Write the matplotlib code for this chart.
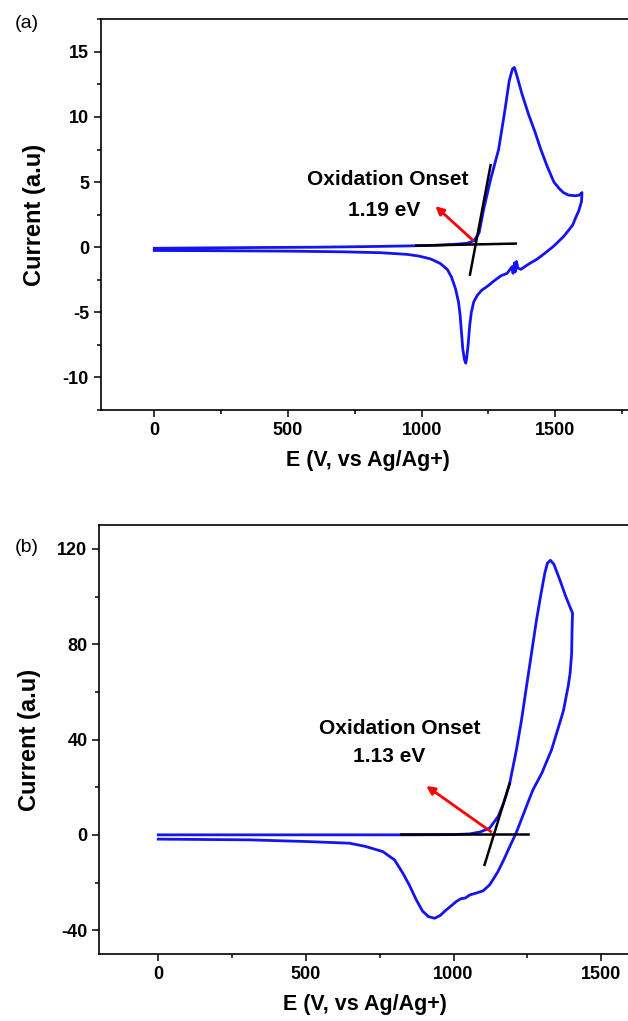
import numpy as np
import matplotlib
matplotlib.use('Agg')
from matplotlib import pyplot
from matplotlib.ticker import MultipleLocator

pyplot.rcParams['font.family'] = ['Liberation Sans', 'DejaVu Sans']
pyplot.rcParams['axes.unicode_minus'] = False

# panel (a) cyclic voltammogram
e_a = [0, 200, 400, 600, 800, 950, 1050, 1120, 1170, 1196, 1215, 1232, 1258, 1288,
       1310, 1328, 1340, 1347, 1356, 1375, 1400, 1425, 1446, 1470, 1495, 1515, 1530,
       1550, 1575, 1590, 1600,
       1598, 1588, 1577, 1565, 1548, 1530, 1510, 1495, 1465, 1433, 1400, 1371, 1360,
       1355, 1350, 1347, 1342, 1338, 1320, 1296, 1270, 1246, 1225, 1208, 1195, 1186,
       1180, 1174, 1168, 1165, 1160, 1154, 1149, 1144, 1138, 1127, 1112, 1096, 1070,
       1034, 990, 946, 846, 700, 500, 250, 0]
i_a = [-0.08, -0.05, -0.02, 0.0, 0.05, 0.1, 0.15, 0.22, 0.3, 0.5, 1.1, 2.9, 5.2, 7.5,
       10.3, 12.8, 13.7, 13.8, 13.2, 11.8, 10.2, 8.8, 7.5, 6.2, 5.0, 4.5, 4.2,
       4.0, 3.95, 4.0, 4.2,
       3.5, 2.8, 2.3, 1.7, 1.25, 0.8, 0.4, 0.1, -0.4, -0.9, -1.3, -1.7, -1.6,
       -1.1, -1.9, -1.2, -2.0, -1.5, -2.0, -2.2, -2.6, -3.0, -3.3, -3.7, -4.2, -5.0,
       -6.0, -7.5, -8.6, -8.9, -8.6, -7.8, -6.5, -5.2, -4.2, -3.2, -2.3, -1.7, -1.25,
       -0.9, -0.68, -0.55, -0.42, -0.35, -0.3, -0.27, -0.25]

# panel (b)
e_b = [0, 300, 600, 850, 1000, 1055, 1090, 1122, 1151, 1170, 1190, 1213, 1230, 1247,
       1265, 1281, 1296, 1309, 1318, 1328, 1340, 1360, 1380, 1403,
       1401, 1400, 1395, 1388, 1372, 1350, 1332, 1299, 1269, 1251, 1230, 1211,
       1190, 1170, 1150, 1135, 1122, 1100, 1075, 1055, 1040, 1025, 1009, 990, 975, 955,
       936, 915, 895, 874, 850, 828, 800, 760, 700, 647, 500, 308, 0]
i_b = [0, 0, 0, 0, 0.1, 0.4, 1.2, 2.8, 7.7, 13.5, 21.5, 35.7, 48.0, 62.2,
       77.0, 90.2, 101.0, 109.8, 114.0, 115.2, 113.5, 107.0, 100.0, 93.0,
       84.0, 76.2, 68.0, 62.2, 52.0, 43.0, 35.7, 25.9, 18.9, 13.3, 6.5, 0.5,
       -5.0, -10.5, -15.5, -18.5, -21.0, -23.5, -24.5, -25.2, -26.5, -26.8, -28.0, -30.0, -31.5, -33.8,
       -35.0, -34.3, -32.0, -27.3, -21.0, -16.0, -10.5, -7.0, -4.8, -3.5, -2.8, -2.1, -1.8]

# onset construction lines: (baseline, tangent), arrow tail/head, labels
base_a = ([980, 1352], [0.12, 0.28])
tang_a = ([1181, 1258], [-2.1, 6.3])
arrow_a = ((1199, 0.4), (1044, 3.3))
base_b = ([823, 1252], [0.4, 0.4])
tang_b = ([1105, 1190], [-12.6, 21.5])
arrow_b = ((1134, 0.7), (900, 21.2))
onset_a = '1.19 eV'
onset_b = '1.13 eV'

fig = pyplot.figure(figsize=(6.28, 10.21), dpi=100)
ax1 = fig.add_axes([0.1605, 0.5984, 0.8514, 0.3827])
ax2 = fig.add_axes([0.158, 0.0656, 0.8463, 0.4202])


def style_axis(ax, xlim, ylim, ymaj, ymin):
    ax.set_xlim(*xlim)
    ax.set_ylim(*ylim)
    ax.xaxis.set_major_locator(MultipleLocator(500))
    ax.xaxis.set_minor_locator(MultipleLocator(250))
    ax.yaxis.set_major_locator(MultipleLocator(ymaj))
    ax.yaxis.set_minor_locator(MultipleLocator(ymin))
    ax.tick_params(which='major', direction='out', length=5, width=1.1, labelsize=13)
    ax.tick_params(which='minor', direction='out', length=3, width=1.1)
    for lab in ax.get_xticklabels() + ax.get_yticklabels():
        lab.set_fontweight('bold')
    for sp in ax.spines.values():
        sp.set_linewidth(1.2)
    ax.set_xlabel('E (V, vs Ag/Ag+)', fontsize=15.5, fontweight='bold', labelpad=8)
    ax.set_ylabel('Current (a.u)', fontsize=17, fontweight='bold', labelpad=12)


ax1.plot(e_a, i_a, color='#1414f0', lw=2)
ax1.plot(*base_a, color='black', lw=1.8)
ax1.plot(*tang_a, color='black', lw=1.8)
ax1.annotate('', xy=arrow_a[1], xytext=arrow_a[0],
             arrowprops=dict(arrowstyle='-|>', color='red', lw=2, mutation_scale=12))
ax1.text(873, 5.2, 'Oxidation Onset', fontsize=15, fontweight='bold', ha='center', va='center')
ax1.text(858, 2.85, onset_a, fontsize=15, fontweight='bold', ha='center', va='center')
style_axis(ax1, (-200, 1800), (-12.5, 17.5), 5, 2.5)

ax2.plot(e_b, i_b, color='#1414f0', lw=2)
ax2.plot(*base_b, color='black', lw=1.8)
ax2.plot(*tang_b, color='black', lw=1.8)
ax2.annotate('', xy=arrow_b[1], xytext=arrow_b[0],
             arrowprops=dict(arrowstyle='-|>', color='red', lw=2, mutation_scale=12))
ax2.text(817, 44.8, 'Oxidation Onset', fontsize=15, fontweight='bold', ha='center', va='center')
ax2.text(783, 32.9, onset_b, fontsize=15, fontweight='bold', ha='center', va='center')
style_axis(ax2, (-200, 1600), (-50, 130), 40, 20)

fig.text(0.043, 0.977, '(a)', fontsize=14, ha='center', va='center')
fig.text(0.043, 0.464, '(b)', fontsize=14, ha='center', va='center')

fig.savefig('out.png', dpi=100)
